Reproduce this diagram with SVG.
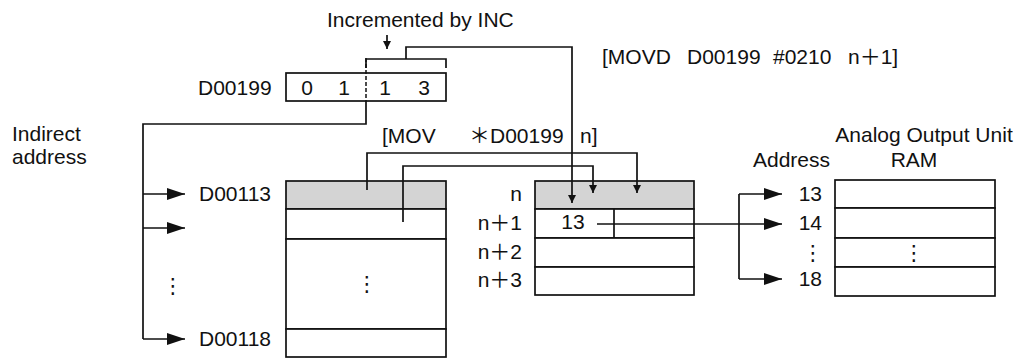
<svg xmlns="http://www.w3.org/2000/svg" width="1023" height="360" viewBox="0 0 1023 360">
<style>
text{font-family:"Liberation Sans",Arial,"Noto Sans CJK JP",sans-serif;font-size:21px;fill:#111}
.box{fill:#fff;stroke:#111;stroke-width:1.7}
.shade{fill:#d4d4d4;stroke:#111;stroke-width:1.7}
.ln{fill:none;stroke:#111;stroke-width:1.7}
.dash{fill:none;stroke:#111;stroke-width:1.5;stroke-dasharray:4 2}
.m{text-anchor:middle}
.e{text-anchor:end}
.dots{font-family:"DejaVu Sans",sans-serif;font-size:21px;text-anchor:middle}
</style>
<defs>
<marker id="big" markerUnits="userSpaceOnUse" markerWidth="18" markerHeight="12" refX="18" refY="6" orient="auto"><path d="M0,0 L18,6 L0,12 z" fill="#111"/></marker>
<marker id="small" markerUnits="userSpaceOnUse" markerWidth="8" markerHeight="8" refX="8" refY="4" orient="auto"><path d="M0,0 L8,4 L0,8 z" fill="#111"/></marker>
</defs>

<g id="inc-label">
<text x="327" y="27">Incremented by INC</text>
</g>

<g id="d00199">
<text x="198" y="95">D00199</text>
<rect class="box" x="286" y="73" width="160" height="28"/>
<text class="m" x="307" y="95">0</text>
<text class="m" x="344" y="95">1</text>
<text class="m" x="385" y="95">1</text>
<text class="m" x="424" y="95">3</text>
</g>

<g id="movd-instr">
<text x="602" y="64">[MOVD</text>
<text x="687" y="64">D00199</text>
<text x="773" y="64">#0210</text>
<text x="848" y="64">n＋1]</text>
</g>

<g id="indirect-label">
<text x="12" y="141">Indirect</text>
<text x="12" y="164">address</text>
</g>

<g id="mov-instr">
<text x="382" y="143">[MOV</text>
<text x="469" y="143">＊D00199</text>
<text x="580" y="143">n]</text>
</g>

<g id="dm-area">
<text x="199" y="201">D00113</text>
<text x="199" y="346">D00118</text>
<text class="dots" x="173" y="293">⋮</text>
<rect class="shade" x="286" y="181" width="160" height="28"/>
<rect class="box" x="286" y="209" width="160" height="30"/>
<rect class="box" x="286" y="239" width="160" height="90"/>
<rect class="box" x="286" y="329" width="160" height="28"/>
<text class="dots" x="367" y="291">⋮</text>
</g>

<g id="n-area">
<text class="e" x="522" y="201">n</text>
<text class="e" x="522" y="230">n＋1</text>
<text class="e" x="522" y="259">n＋2</text>
<text class="e" x="522" y="287">n＋3</text>
<rect class="shade" x="535" y="181" width="159" height="28"/>
<rect class="box" x="535" y="209" width="159" height="29"/>
<rect class="box" x="535" y="238" width="159" height="29"/>
<rect class="box" x="535" y="267" width="159" height="28"/>
<line class="ln" x1="614" y1="209" x2="614" y2="238"/>
<text class="m" x="573" y="229">13</text>
</g>

<g id="ram">
<text class="m" x="924" y="142">Analog Output Unit</text>
<text x="753" y="167">Address</text>
<text class="m" x="914" y="167">RAM</text>
<text class="e" x="822" y="201">13</text>
<text class="e" x="822" y="230">14</text>
<text class="dots" x="813" y="260">⋮</text>
<text class="e" x="822" y="286">18</text>
<rect class="box" x="835" y="180" width="160" height="28"/>
<rect class="box" x="835" y="208" width="160" height="30"/>
<rect class="box" x="835" y="238" width="160" height="29"/>
<rect class="box" x="835" y="267" width="160" height="29"/>
<text class="dots" x="914" y="260">⋮</text>
</g>

<g id="connectors">
<path class="ln" d="M387,35 V49" marker-end="url(#small)"/>
<line class="dash" x1="366" y1="58" x2="366" y2="101"/>
<path class="ln" d="M366,68 V59 H446 V68"/>
<path class="ln" d="M406,59 V47 H572 V203" marker-end="url(#small)"/>
<path class="ln" d="M366,101 V124 H143 V339"/>
<path class="ln" d="M143,194 H185" marker-end="url(#big)"/>
<path class="ln" d="M143,228 H185" marker-end="url(#big)"/>
<path class="ln" d="M143,339 H185" marker-end="url(#big)"/>
<path class="ln" d="M367,190 V153 H637 V193" marker-end="url(#small)"/>
<path class="ln" d="M403,222 V166 H593 V193" marker-end="url(#small)"/>
<path class="ln" d="M597,224 H782" marker-end="url(#big)"/>
<path class="ln" d="M739,194 V279"/>
<path class="ln" d="M739,194 H782" marker-end="url(#big)"/>
<path class="ln" d="M739,279 H782" marker-end="url(#big)"/>
</g>
</svg>
